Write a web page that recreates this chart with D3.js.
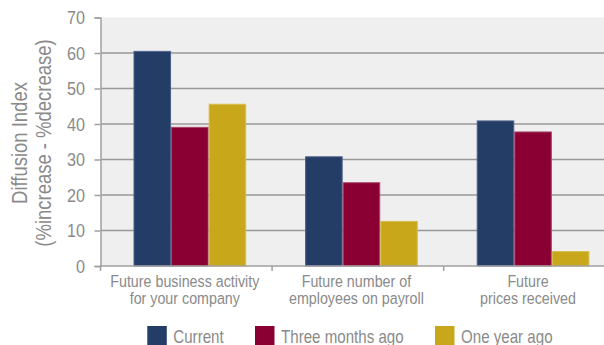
<!DOCTYPE html>
<html>
<head>
    <meta charset="utf-8" />
    <title></title>
    <style>
        body { margin: 0; background: #fff; }
        svg { display: block; }
        text { font-family: "Liberation Sans", Arial, sans-serif; fill: #8a8a8a; }
    </style>
</head>
<body>
    <div id="chart"></div>
    <script src="https://cdn.jsdelivr.net/npm/d3@7"></script>
    <script>
        var categories = [["Future business activity", "for your company"],
                          ["Future number of", "employees on payroll"],
                          ["Future", "prices received"]];
        var seriesNames = ["Current", "Three months ago", "One year ago"];
        var current = [60.6, 30.9, 41.0];
        var threeMonths = [39.2, 23.6, 37.9];
        var oneYear = [45.7, 12.7, 4.2];
        var yTicks = [0, 10, 20, 30, 40, 50, 60, 70];
        var colors = ["#243d66", "#8b0033", "#c8a81a"];
        var borders = ["#4d6187", "#a8456a", "#d6bd4f"];

        var width = 604, height = 345;
        var squeeze = 0.84; // the original uses a condensed face
        var allSeries = [current, threeMonths, oneYear];

        var x0 = d3.scaleBand()
            .domain(d3.range(categories.length))
            .range([100.5, 615.3]);
        var x1 = d3.scaleBand()
            .domain(d3.range(seriesNames.length))
            .range([33, 145.7]);
        var y = d3.scaleLinear()
            .domain([0, 70])
            .range([266, 17.5]);

        var svg = d3.select("#chart")
            .append("svg")
            .attr("width", width)
            .attr("height", height);

        // plot background
        svg.append("rect")
            .attr("x", 101).attr("y", y(70))
            .attr("width", width - 101).attr("height", y(0) - y(70))
            .attr("fill", "#efefef");

        // gridlines
        svg.append("g")
            .selectAll("line")
            .data(yTicks.filter(d => d > 0 && d < 70))
            .join("line")
            .attr("x1", 101).attr("x2", width)
            .attr("y1", d => y(d)).attr("y2", d => y(d))
            .attr("stroke", "#989898")
            .attr("stroke-width", 1.5);

        // bars
        svg.append("g")
            .selectAll("g")
            .data(allSeries)
            .join("g")
            .attr("fill", (d, i) => colors[i])
            .attr("stroke", (d, i) => borders[i])
            .attr("stroke-width", 1)
            .each(function (vals, si) {
                d3.select(this).selectAll("rect")
                    .data(vals)
                    .join("rect")
                    .attr("x", (d, ci) => x0(ci) + x1(si) + 0.5)
                    .attr("width", x1.bandwidth() - 1)
                    .attr("y", d => y(d) + 0.5)
                    .attr("height", d => y(0) - y(d) - 0.5);
            });

        // y axis
        var yAxis = svg.append("g")
            .attr("transform", "translate(100.5,0)")
            .call(d3.axisLeft(y).tickValues(yTicks).tickSize(6).tickPadding(0));
        yAxis.select(".domain").attr("stroke", "#a0a0a0").attr("stroke-width", 1.5);
        yAxis.selectAll(".tick line").attr("stroke", "#a0a0a0").attr("stroke-width", 1.5);
        yAxis.selectAll(".tick text")
            .attr("x", 0)
            .attr("dy", "0.36em")
            .attr("transform", "translate(-15.5,0) scale(0.9,1)")
            .attr("font-size", 18)
            .attr("font-family", "'Liberation Sans', Arial, sans-serif")
            .attr("fill", "#8a8a8a");

        // x axis line and ticks
        svg.append("line")
            .attr("x1", 100).attr("x2", width)
            .attr("y1", y(0)).attr("y2", y(0))
            .attr("stroke", "#a0a0a0").attr("stroke-width", 1.5);
        svg.append("g")
            .selectAll("line")
            .data(d3.range(categories.length))
            .join("line")
            .attr("x1", d => x0(d)).attr("x2", d => x0(d))
            .attr("y1", y(0)).attr("y2", y(0) + 5)
            .attr("stroke", "#a0a0a0").attr("stroke-width", 1.5);

        // category labels
        svg.append("g")
            .attr("font-size", 17)
            .attr("text-anchor", "middle")
            .selectAll("text")
            .data(categories)
            .join("text")
            .attr("transform", (d, i) => `translate(${x0(i) + x0.bandwidth() / 2 - 1.5},287) scale(${squeeze},1)`)
            .each(function (lines) {
                d3.select(this).selectAll("tspan")
                    .data(lines)
                    .join("tspan")
                    .attr("x", 0)
                    .attr("y", (d, j) => j * 17)
                    .text(d => d);
            });

        // y axis title
        svg.append("text")
            .attr("transform", `translate(0,143) rotate(-90) scale(${squeeze},1)`)
            .attr("text-anchor", "middle")
            .attr("font-size", 22)
            .call(t => t.append("tspan").attr("x", 0).attr("y", 27.5).text("Diffusion Index"))
            .call(t => t.append("tspan").attr("x", 0).attr("y", 51.5).text("(%increase - %decrease)"));

        // legend
        var legendX = [147.3, 255, 435];
        var legend = svg.append("g")
            .selectAll("g")
            .data(seriesNames)
            .join("g")
            .attr("transform", (d, i) => `translate(${legendX[i]},326)`);
        legend.append("rect")
            .attr("width", 19.5).attr("height", 20)
            .attr("fill", (d, i) => colors[i]);
        legend.append("text")
            .attr("transform", `translate(26,17.3) scale(${squeeze},1)`)
            .attr("font-size", 18)
            .text(d => d);
    </script>
</body>
</html>
